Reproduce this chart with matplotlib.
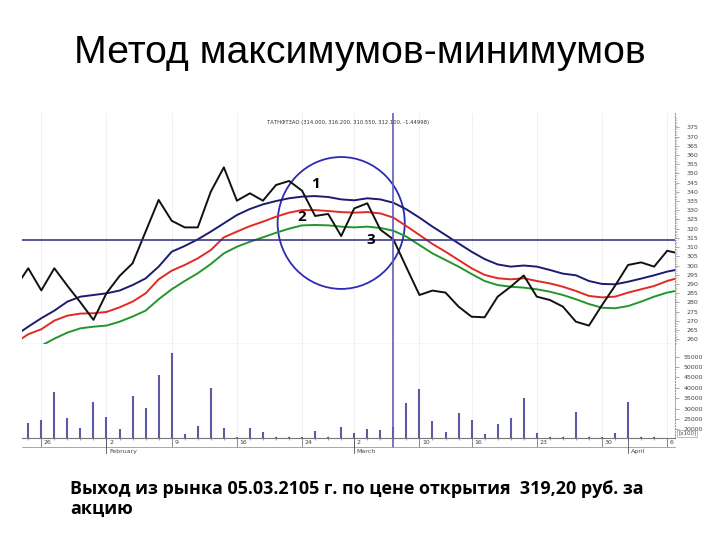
import numpy as np
import matplotlib
matplotlib.use('Agg')
from matplotlib import pyplot as plt
from matplotlib.patches import Ellipse

# trading days, 22.01.2015 - 07.04.2015
dates = ['22.01', '23.01', '26.01', '27.01', '28.01', '29.01', '30.01',
         '02.02', '03.02', '04.02', '05.02', '06.02', '09.02', '10.02', '11.02', '12.02', '13.02',
         '16.02', '17.02', '18.02', '19.02', '20.02', '24.02', '25.02', '26.02', '27.02',
         '02.03', '03.03', '04.03', '05.03', '06.03', '10.03', '11.03', '12.03', '13.03',
         '16.03', '17.03', '18.03', '19.03', '20.03', '23.03', '24.03', '25.03', '26.03', '27.03',
         '30.03', '31.03', '01.04', '02.04', '03.04', '06.04', '07.04']

close = [288, 298.5, 286.5, 298.5, 289, 280, 270.5, 285, 294.3, 301.2, 318.4, 335.6, 324.3, 320.7,
         320.7, 340.1, 353.3, 335.2, 339.2, 335.2, 343.7, 345.9, 340.6, 326.9, 328.0, 316.0,
         331.0, 333.8, 319.5, 314.2, 299, 284.0, 286.4, 285.3, 277.7, 272.2, 271.9, 283.1, 288.5,
         294.6, 283.1, 281.3, 277.7, 269.5, 267.4, 278.5, 289, 300.3, 301.7, 299.4, 308.0, 306.4]

upper = [262, 266.8, 271.4, 275.5, 280.4, 283.1, 284.0, 284.9, 286.4, 289.4, 293.0, 299.4, 307.5,
         310.6, 314.2, 318.4, 322.9, 327.4, 330.7, 333.2, 335.0, 336.5, 337.4, 337.7, 337.2, 335.9,
         335.4, 336.5, 335.9, 334.1, 330.5, 326.0, 321.1, 316.6, 312.0, 307.5, 303.5, 300.6, 299.4,
         300.0, 299.4, 297.6, 295.6, 294.7, 291.6, 290.0, 289.8, 291.2, 292.9, 294.7, 296.7, 298.1]

middle = [258, 262.7, 265.4, 270.1, 272.8, 273.9, 274.1, 274.8, 277.3, 280.4, 284.9, 292.5, 297.2,
          300.3, 303.9, 308.4, 315.3, 318.4, 321.4, 323.8, 326.5, 328.7, 330.1, 330.1, 329.6, 329.0,
          328.7, 329.0, 328.3, 326.0, 321.4, 316.6, 311.7, 307.5, 303.0, 298.5, 294.9, 293.1, 292.5,
          293.1, 291.6, 290.3, 288.5, 286.2, 283.5, 282.7, 283.1, 285.3, 287.1, 288.9, 291.6, 293.6]

lower = [250, 253, 256.5, 260.3, 263.6, 265.9, 266.8, 267.4, 269.5, 272.3, 275.5, 281.7, 287.1,
         291.6, 295.8, 300.8, 306.6, 310.2, 312.9, 315.3, 317.8, 320.0, 321.8, 322.0, 321.8, 321.1,
         320.7, 321.1, 320.4, 318.9, 315.7, 311.1, 306.6, 303.0, 299.4, 295.4, 291.6, 289.4, 288.5,
         288.0, 287.1, 285.8, 284.0, 281.7, 279.1, 277.1, 276.8, 278.0, 280.4, 283.1, 285.3, 286.7]

volume = [16000, 22900, 24500, 38100, 25600, 20500, 33300, 25800, 20000, 36200, 30100, 46200, 56900,
          17700, 21600, 40100, 20500, 16400, 20500, 18500, 16300, 16300, 16300, 19300, 16300, 21000,
          18400, 20100, 19700, 21000, 32800, 39400, 23900, 18800, 28000, 24500, 17600, 22400, 25300,
          35200, 18100, 16300, 16300, 28500, 16300, 16300, 18100, 33000, 16300, 16300, 16000, 16000]

week_days = ['26.01', '02.02', '09.02', '16.02', '24.02', '02.03', '10.03', '16.03', '23.03', '30.03', '06.04']
week_labels = ['26', '2', '9', '16', '24', '2', '10', '16', '23', '30', '6']
months = ['02.02', '02.03', '01.04']
month_labels = ['February', 'March', 'April']

exit_day = '05.03'
level = 314
header = 'ТАТНФТ3АО (314.000, 316.200, 310.550, 312.100, -1.44998)'
title = 'Метод максимумов-минимумов'
note = 'Выход из рынка 05.03.2105 г. по цене открытия  319,20 руб. за\nакцию'

x = np.arange(len(dates))
pos = {d: i for i, d in enumerate(dates)}
wk = [pos[d] for d in week_days]

fig = plt.figure(figsize=(7.2, 5.4), dpi=100)
fig.patch.set_facecolor('white')

fig.text(0.5, 1 - 53 / 540, title, ha='center', va='center',
         fontsize=28.2, family='Liberation Sans')
fig.text(70 / 720, 1 - 480 / 540, note, ha='left', va='top', fontsize=12.9,
         family='Open Sans', fontweight='bold', linespacing=1.13)

xl = (0.52, 50.6)
L, W = 22 / 720, 653 / 720
axis_grey = '#777777'

# price panel
ax = fig.add_axes([L, 1 - 344 / 540, W, 231 / 540])
for d in wk:
    ax.axvline(d, color='#d8d8d8', lw=0.7, ls=':', zorder=0)
ax.plot(x, upper, color='#1c1c70', lw=1.4)
ax.plot(x, middle, color='#e02a22', lw=1.4)
ax.plot(x, lower, color='#22962a', lw=1.4)
ax.plot(x, close, color='#111111', lw=1.4)
ax.axhline(level, color='#2a2a85', lw=1.1)
ax.axvline(pos[exit_day], color='#6060b8', lw=1.2)
ax.add_patch(Ellipse((25, 323.1), 9.75, 71.6, fill=False, edgecolor='#2b2bb5', lw=1.3))
for t, xx, yy in [('1', 23, 344.2), ('2', 22, 326.3), ('3', 27.3, 313.9)]:
    ax.text(xx, yy, t, ha='center', va='center', fontsize=11, fontweight='bold', family='Open Sans')
ax.text(0.5, 0.957, header, transform=ax.transAxes, ha='center', va='center',
        fontsize=3.8, color='#333333')
for s in ['top', 'left']:
    ax.spines[s].set_visible(False)
ax.spines['right'].set_color('#999999')
ax.spines['right'].set_linestyle(':')
ax.spines['bottom'].set_color('#888888')
ax.set_xticks([])
ax.yaxis.tick_right()
ax.set_yticks(np.arange(260, 380, 5))
ax.set_yticks(np.arange(258, 381, 1), minor=True)
ax.tick_params(axis='y', which='major', labelsize=4.5, labelcolor='#444444', color='#888888',
               length=3, width=0.5, pad=5)
ax.tick_params(axis='y', which='minor', color='#aaaaaa', length=1.5, width=0.4)
ax.set_xlim(*xl)
ax.set_ylim(257.4, 382.8)

# volume panel
av = fig.add_axes([L, 1 - 438 / 540, W, 94 / 540])
for d in wk:
    av.axvline(d, color='#d8d8d8', lw=0.7, ls=':', zorder=0)
av.vlines(x, 0, volume, color='#5a5aa6', lw=1.5)
av.axvline(pos[exit_day], color='#6060b8', lw=1.2)
xt = av.get_xaxis_transform()
av.plot([pos[exit_day]] * 2, [0, -0.095], transform=xt, color='#6060b8', lw=1.2, clip_on=False)
av.plot(xl, [-0.093, -0.093], transform=xt, color='#999999', lw=0.6, clip_on=False)
for s in ['top', 'left']:
    av.spines[s].set_visible(False)
av.spines['right'].set_color('#999999')
av.spines['right'].set_linestyle(':')
av.spines['bottom'].set_color(axis_grey)
av.yaxis.tick_right()
av.set_yticks(np.arange(20000, 60000, 5000))
av.tick_params(axis='y', labelsize=4.5, labelcolor='#444444', color='#888888', length=3, width=0.5, pad=3)
av.text(1.005, 0.05, '[x100]', transform=av.transAxes, fontsize=4, color='#444444',
        ha='left', va='center', bbox=dict(boxstyle='square,pad=0.15', fc='white', ec='#888888', lw=0.4))
av.set_xticks(x, minor=True)
av.set_xticks(wk)
av.set_xticklabels([])
av.tick_params(axis='x', which='minor', direction='inout', length=3, width=0.5, color=axis_grey)
av.tick_params(axis='x', which='major', direction='out', length=6.3, width=0.6, color=axis_grey)
for d, t in zip(wk, week_labels):
    av.text(d + 0.2, -0.045, t, transform=xt, fontsize=4.5,
            color='#444444', ha='left', va='center')
for m, t in zip(months, month_labels):
    av.plot([pos[m], pos[m]], [0, -0.16], transform=xt,
            color='#555555', lw=0.6, clip_on=False)
    av.text(pos[m] + 0.2, -0.14, t, transform=xt, fontsize=4.5,
            color='#444444', ha='left', va='center')
av.set_xlim(*xl)
av.set_ylim(15800, 61100)

plt.savefig('out.png', dpi=100, facecolor='white')
